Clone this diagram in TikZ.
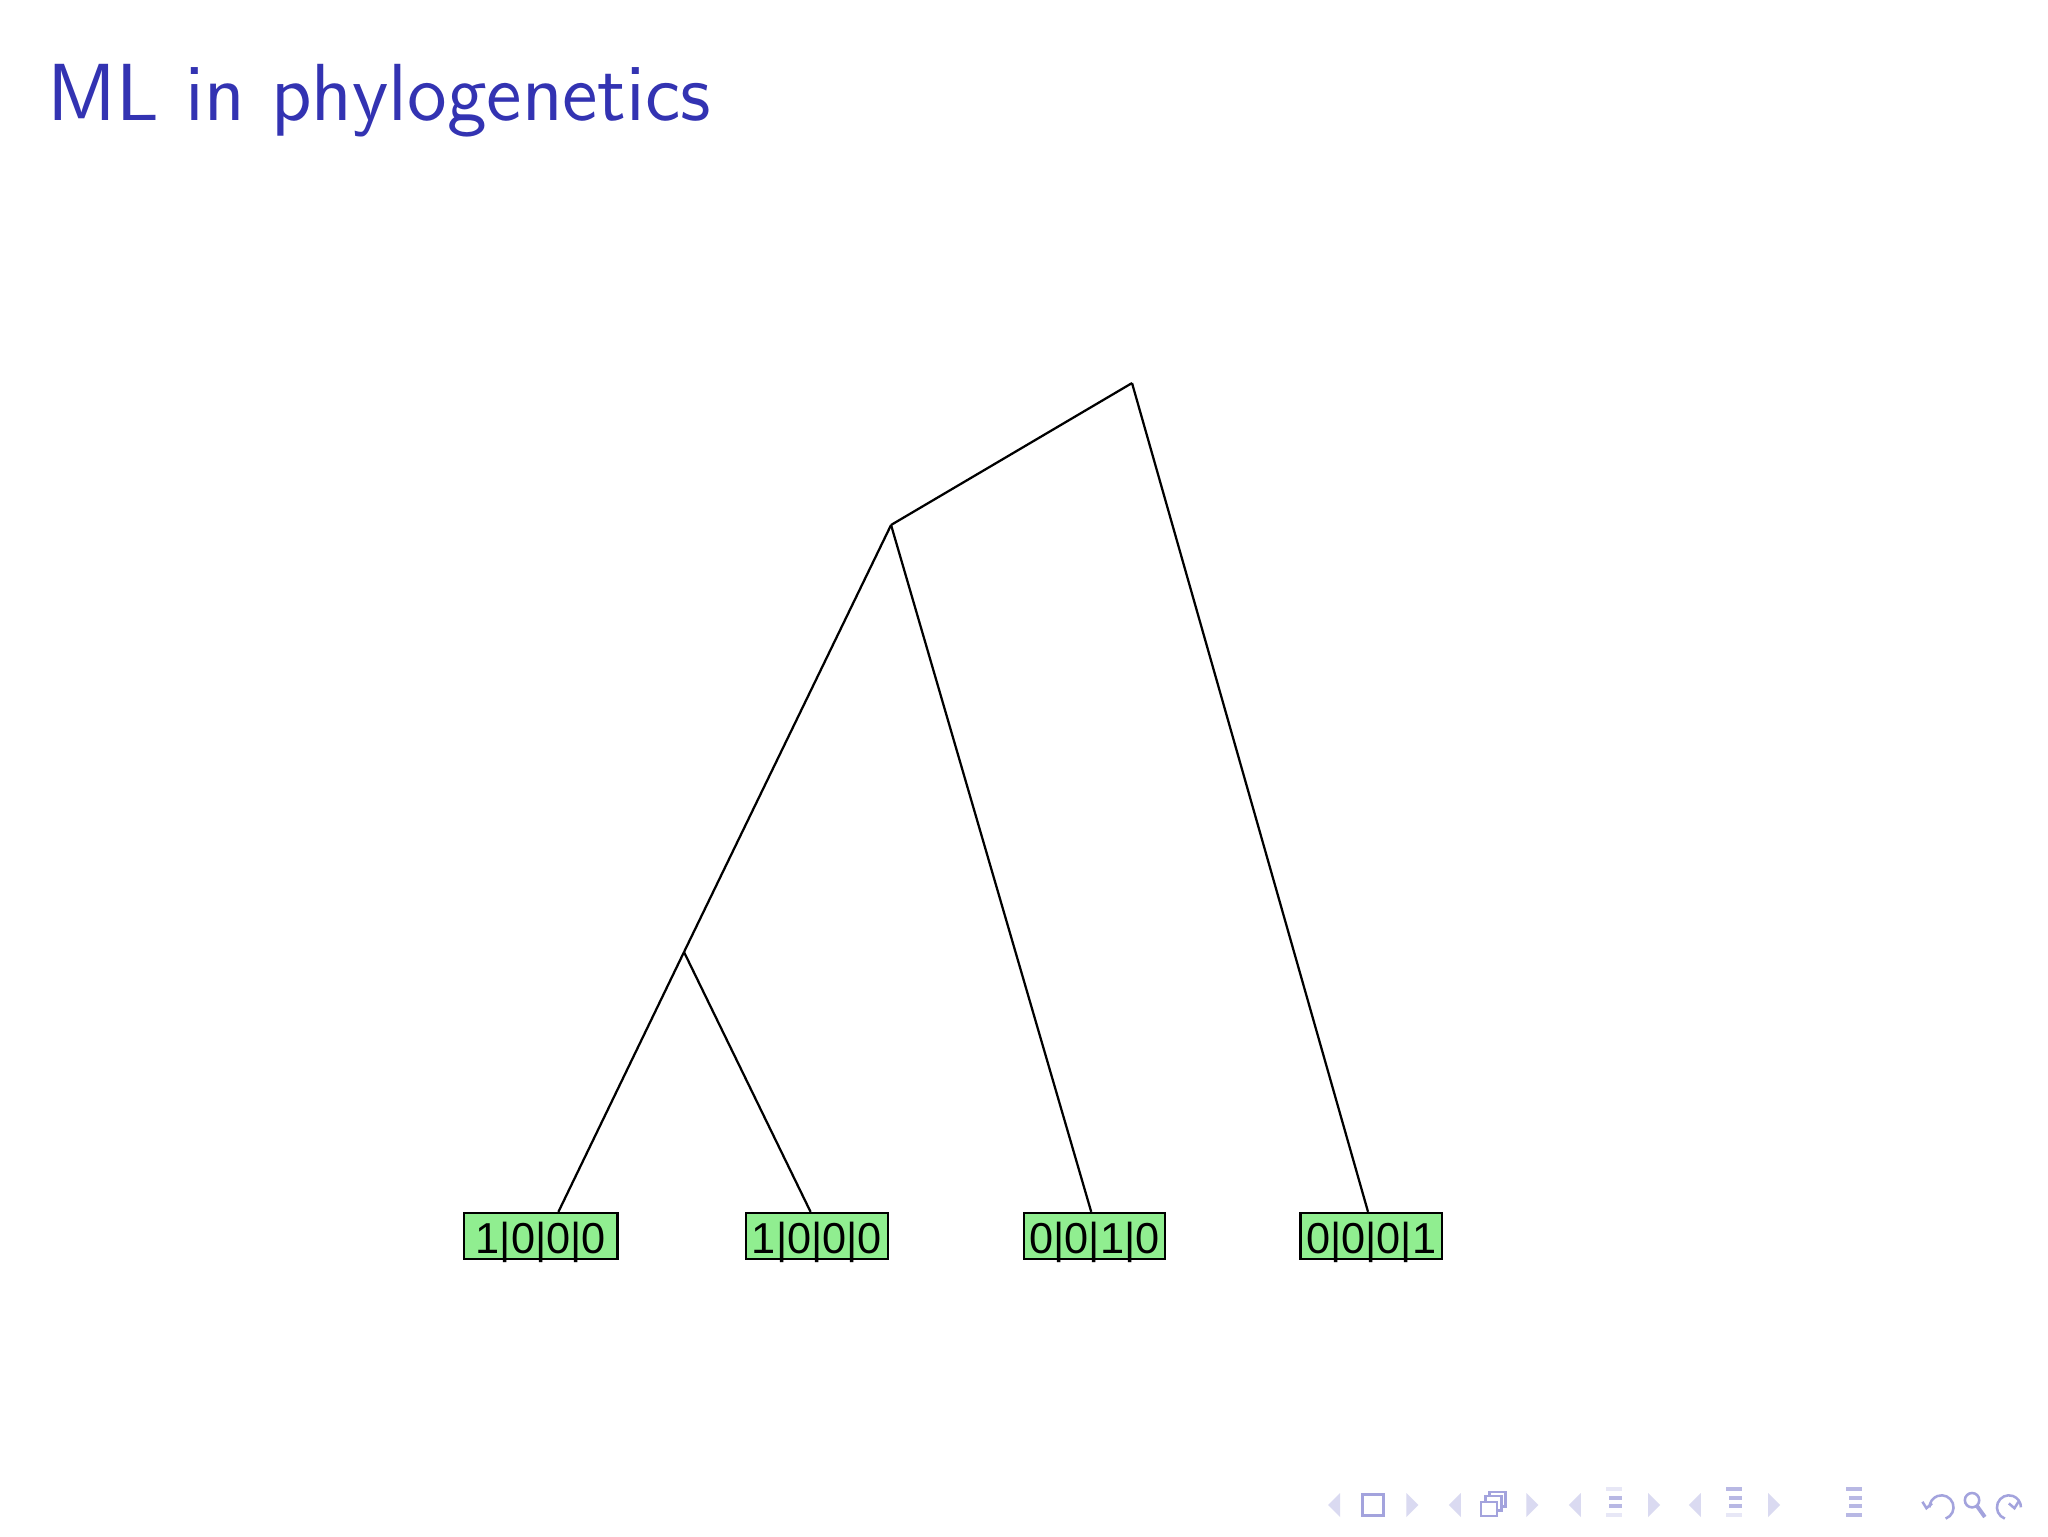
\documentclass[tikz,border=0pt]{standalone}
\usepackage{fontspec}
\newfontfamily\leaffont{Liberation Sans}
\usepackage{tikz}
\definecolor{titleblue}{rgb}{0.2,0.2,0.7}
\definecolor{leafgreen}{RGB}{144,238,144}

\begin{document}
\begin{tikzpicture}[auto,
  leaf/.style={draw,fill=leafgreen,inner xsep=1pt,inner ysep=1pt,minimum width=0.88cm,
    text height=6.2pt,text depth=0pt,font=\leaffont\fontsize{7.7}{9}\selectfont},
  navarrow/.style={fill=titleblue!18},
  navicon/.style={draw=titleblue!45,line width=0.45pt}]

\useasboundingbox (0,0) rectangle (12.8,9.6);
\fill[white] (0,0) rectangle (12.8,9.6);

% {Frame title};
\node[anchor=base west,inner sep=0pt,text=titleblue,font=\sffamily\Large] (title) at (0.29,8.845) {ML in phylogenetics};

% {Tree};
\begin{scope}
\coordinate (root) at (7.075,7.206);
\coordinate (inA) at (5.569,6.319);
\coordinate (inB) at (4.275,3.650);

\node[leaf,minimum width=0.96cm] (leafa) at (3.38,1.875) {1|0|0|0};
\node[leaf] (leafb) at (5.106,1.875) {1|0|0|0};
\node[leaf] (leafc) at (6.84,1.875) {0|0|1|0};
\node[leaf] (leafd) at (8.57,1.875) {0|0|0|1};

\draw (root) -- (inA);
\draw (root) -- ([xshift=-0.2mm]leafd.north);
\draw (inA) -- (inB);
\draw (inA) -- ([xshift=-0.2mm]leafc.north);
\draw (inB) -- ([xshift=1.1mm]leafa.north);
\draw (inB) -- ([xshift=-0.4mm]leafb.north);
\end{scope}

% {Navigation symbols};
\begin{scope}[yshift=0.194cm]
\fill[navarrow] (8.30,0) -- ++(0.075,0.075) -- ++(0,-0.15) -- cycle;
\fill[navarrow] (8.865,0) -- ++(-0.075,0.075) -- ++(0,-0.15) -- cycle;
\fill[navarrow] (9.055,0) -- ++(0.075,0.075) -- ++(0,-0.15) -- cycle;
\fill[navarrow] (9.615,0) -- ++(-0.075,0.075) -- ++(0,-0.15) -- cycle;
\fill[navarrow] (9.805,0) -- ++(0.075,0.075) -- ++(0,-0.15) -- cycle;
\fill[navarrow] (10.375,0) -- ++(-0.075,0.075) -- ++(0,-0.15) -- cycle;
\fill[navarrow] (10.555,0) -- ++(0.075,0.075) -- ++(0,-0.15) -- cycle;
\fill[navarrow] (11.125,0) -- ++(-0.075,0.075) -- ++(0,-0.15) -- cycle;

\draw[navicon] (8.515,-0.065) rectangle ++(0.13,0.13);

\filldraw[navicon,fill=white] (9.31,-0.01) rectangle ++(0.1,0.09);
\filldraw[navicon,fill=white] (9.285,-0.035) rectangle ++(0.1,0.09);
\filldraw[navicon,fill=white] (9.255,-0.07) rectangle ++(0.1,0.09);

\fill[titleblue!12] (10.04,0.085) rectangle ++(0.1,0.025);
\fill[titleblue!35] (10.055,0.03) rectangle ++(0.085,0.025);
\fill[titleblue!35] (10.055,-0.02) rectangle ++(0.085,0.025);
\fill[titleblue!12] (10.04,-0.075) rectangle ++(0.1,0.025);

\fill[titleblue!35] (10.79,0.085) rectangle ++(0.1,0.025);
\fill[titleblue!35] (10.805,0.03) rectangle ++(0.085,0.025);
\fill[titleblue!35] (10.805,-0.02) rectangle ++(0.085,0.025);
\fill[titleblue!12] (10.79,-0.075) rectangle ++(0.1,0.025);

\fill[titleblue!35] (11.54,0.085) rectangle ++(0.1,0.025);
\fill[titleblue!35] (11.555,0.03) rectangle ++(0.085,0.025);
\fill[titleblue!35] (11.555,-0.02) rectangle ++(0.085,0.025);
\fill[titleblue!35] (11.54,-0.075) rectangle ++(0.1,0.025);

\draw[navicon] (12.16,-0.085) arc (-70:180:0.075);
\draw[navicon] (12.015,0.02) -- (12.04,-0.02) -- (12.075,0.01);
\draw[navicon] (12.325,0.03) circle (0.045);
\draw[navicon,line width=0.7pt] (12.355,-0.005) -- (12.405,-0.075);
\draw[navicon] (12.53,-0.085) arc (250:0:0.075);
\draw[navicon] (12.615,0.02) -- (12.59,-0.02) -- (12.555,0.01);
\end{scope}

\end{tikzpicture}
\end{document}
